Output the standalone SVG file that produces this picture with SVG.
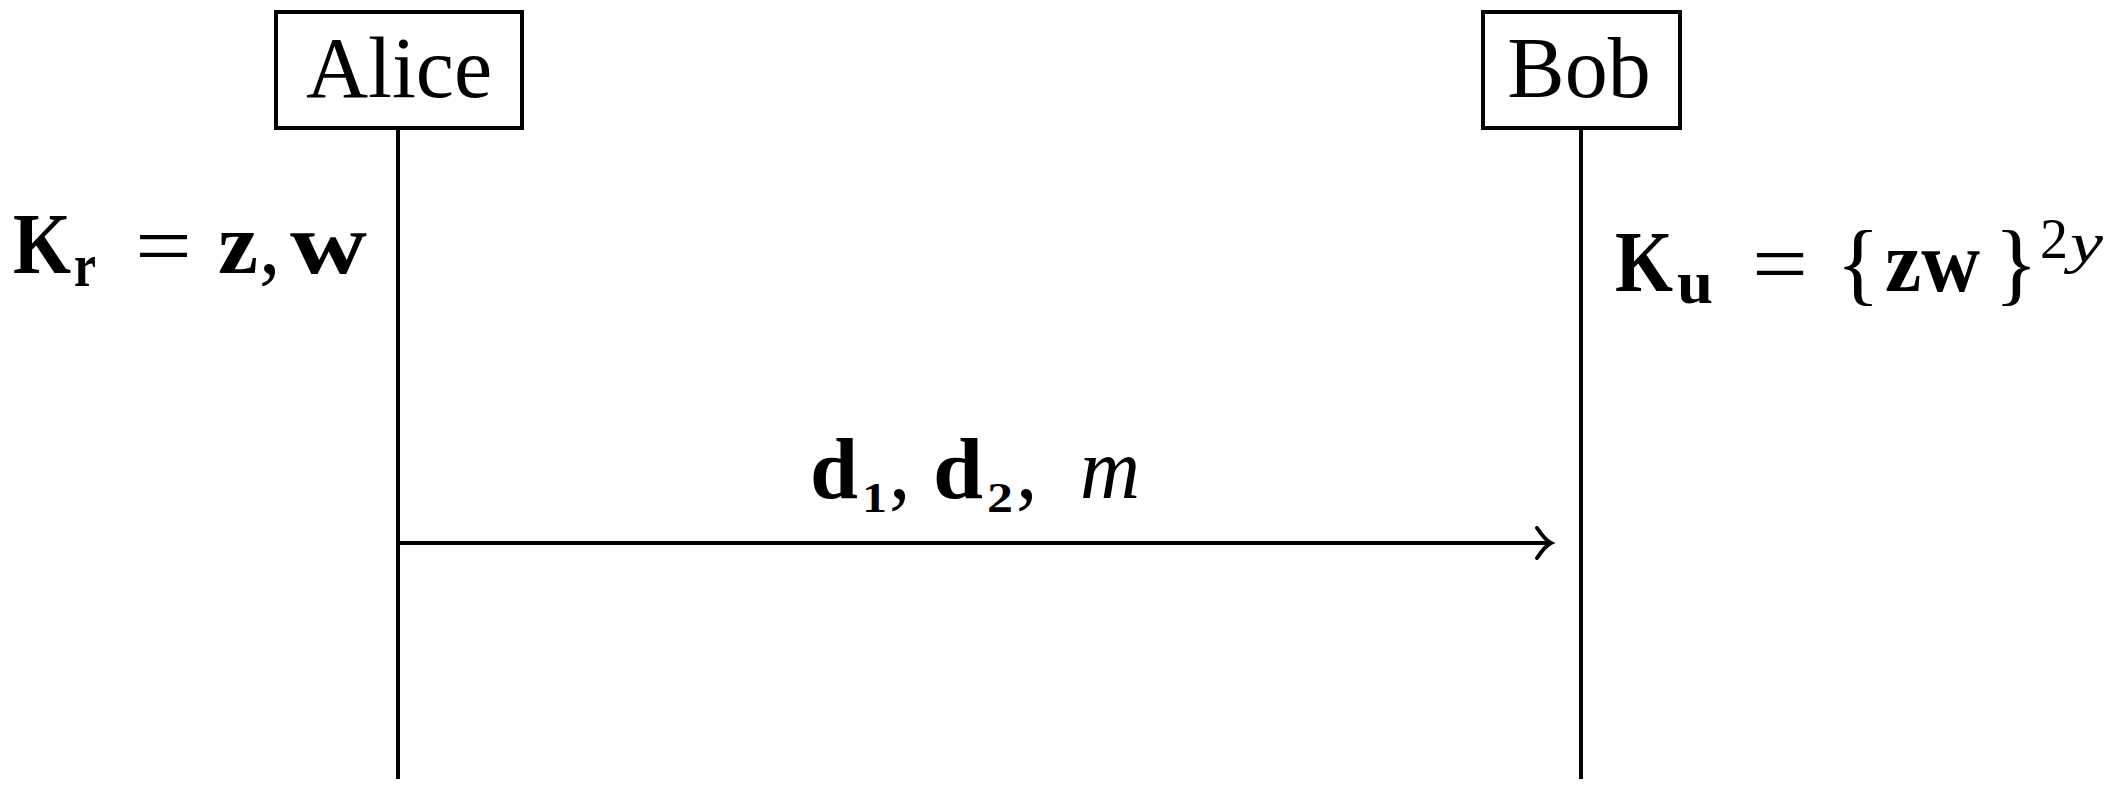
<svg xmlns="http://www.w3.org/2000/svg" width="2121" height="802" viewBox="0 0 2121 802">
<style>
.box{fill:#fff;stroke:#000;stroke-width:4}
.life{stroke:#000;stroke-width:4;fill:none}
.t{font-family:"Liberation Serif","DejaVu Serif",serif;fill:#000}
.name{font-size:86px;text-anchor:middle}
.b{font-weight:bold}
.i{font-style:italic}
.m{font-size:86px}
.s{font-size:62px}
.d{font-size:42px}
</style>
<defs>
<marker id="to" markerUnits="userSpaceOnUse" markerWidth="24" markerHeight="40" refX="18" refY="20" orient="auto" viewBox="0 0 24 40">
<path d="M4,5 Q12,17 18,20 Q12,23 4,35" fill="none" stroke="#000" stroke-width="4" stroke-linecap="round"/>
</marker>
</defs>
<rect width="2121" height="802" fill="#fff"/>
<g id="connectors">
<line class="life" x1="398" y1="128" x2="398" y2="779"/>
<line class="life" x1="1581" y1="128" x2="1581" y2="779"/>
<line class="life" x1="398" y1="543" x2="1551" y2="543" marker-end="url(#to)"/>
</g>
<g id="alice">
<rect class="box" x="276" y="12" width="246" height="116"/>
<text class="t name" x="399" y="97">Alice</text>
</g>
<g id="bob">
<rect class="box" x="1483" y="12" width="197" height="116"/>
<text class="t name" x="1579" y="97">Bob</text>
</g>
<g id="alice-key">
<text class="t m b" x="13" y="273" textLength="58" lengthAdjust="spacingAndGlyphs">K</text>
<text class="t s b" x="74" y="286" textLength="22" lengthAdjust="spacingAndGlyphs">r</text>
<text class="t m" x="135" y="275" textLength="57" lengthAdjust="spacingAndGlyphs">=</text>
<text class="t m b" x="218" y="273" textLength="40" lengthAdjust="spacingAndGlyphs">z</text>
<text class="t m" x="259" y="273">,</text>
<text class="t m b" x="290" y="273" textLength="77" lengthAdjust="spacingAndGlyphs">w</text>
</g>
<g id="bob-key">
<text class="t m b" x="1615" y="291" textLength="58" lengthAdjust="spacingAndGlyphs">K</text>
<text class="t s b" x="1677" y="303" textLength="36" lengthAdjust="spacingAndGlyphs">u</text>
<text class="t m" x="1752" y="293" textLength="56" lengthAdjust="spacingAndGlyphs">=</text>
<text class="t" font-size="92" x="1836" y="294">{</text>
<text class="t m b" x="1885" y="291" textLength="95" lengthAdjust="spacingAndGlyphs">zw</text>
<text class="t" font-size="92" x="1994" y="294">}</text>
<text class="t" font-size="56" x="2040" y="258">2</text>
<text class="t i" font-size="56" x="2070" y="262" textLength="33" lengthAdjust="spacingAndGlyphs">y</text>
</g>
<g id="message-label">
<text class="t m b" x="810" y="498" textLength="48" lengthAdjust="spacingAndGlyphs">d</text>
<text class="t d b" x="862" y="512" textLength="25" lengthAdjust="spacingAndGlyphs">1</text>
<text class="t m" x="889" y="498">,</text>
<text class="t m b" x="933" y="498" textLength="50" lengthAdjust="spacingAndGlyphs">d</text>
<text class="t d b" x="987" y="512" textLength="26" lengthAdjust="spacingAndGlyphs">2</text>
<text class="t m" x="1016" y="498">,</text>
<text class="t m i" x="1080" y="498" textLength="60" lengthAdjust="spacingAndGlyphs">m</text>
</g>
</svg>
